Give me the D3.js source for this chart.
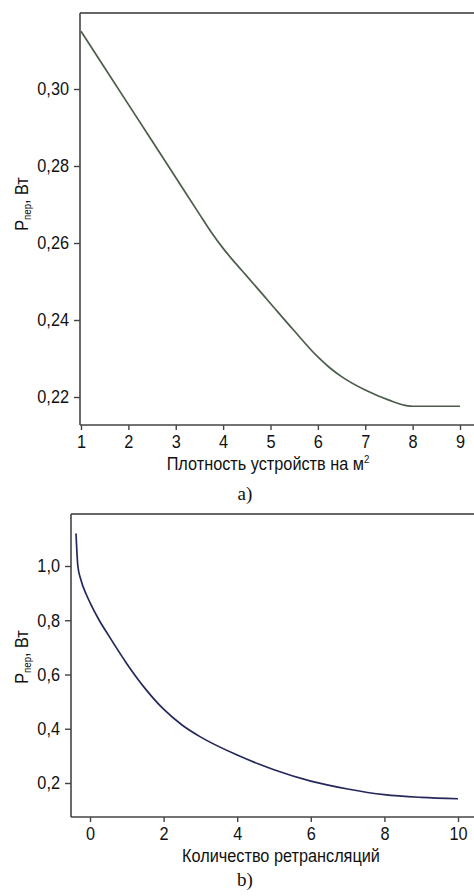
<!DOCTYPE html>
<html><head><meta charset="utf-8">
<script src="https://cdn.jsdelivr.net/npm/d3@7"></script>
<style>
html,body{margin:0;padding:0;background:#fff;}
svg{display:block;}
</style></head>
<body>
<svg id="c" width="474" height="896"></svg>
<script>
// Panel a) data: device density (per m²) vs transmit power (W)
const densityX = [1, 2, 3, 3.5, 3.75, 4, 4.25, 4.5, 5, 5.5, 6, 6.25, 6.5, 7, 7.5, 7.9, 8, 9];
const powerA   = [0.315, 0.296, 0.277, 0.2675, 0.2628, 0.2586, 0.2549, 0.2514, 0.2443, 0.2372, 0.2304, 0.2276, 0.2253, 0.2218, 0.2192, 0.2177, 0.2176, 0.2176];
const ticksAX  = [1, 2, 3, 4, 5, 6, 7, 8, 9];
const ticksAY  = [0.22, 0.24, 0.26, 0.28, 0.30];

// Panel b) data: number of retransmissions vs transmit power (W)
const retransX = [-0.38, -0.33, -0.25, -0.1, 0, 0.25, 0.5, 1, 1.5, 2, 2.5, 3, 4, 5, 6, 7, 8, 9, 10];
const powerB   = [1.12, 1.0, 0.95, 0.895, 0.865, 0.80, 0.745, 0.64, 0.548, 0.472, 0.414, 0.37, 0.303, 0.249, 0.207, 0.178, 0.157, 0.147, 0.142];
const ticksBX  = [0, 2, 4, 6, 8, 10];
const ticksBY  = [0.2, 0.4, 0.6, 0.8, 1.0];

const svg = d3.select("#c");
const FONT = '"Liberation Sans",Arial,sans-serif';
const axisColor = "#444";
const SQ = 0.88; // horizontal condensing of the sans text

function condense(sel){
  sel.each(function(){
    const w = this.getComputedTextLength();
    d3.select(this).attr("textLength", w*SQ).attr("lengthAdjust","spacingAndGlyphs");
  });
}

function panel(cfg){
  const g = svg.append("g");
  const x = d3.scaleLinear().domain(cfg.xDom).range(cfg.xRange);
  const y = d3.scaleLinear().domain(cfg.yDom).range(cfg.yRange);
  const box = cfg.box;
  g.append("line").attr("x1",box.l).attr("x2",box.r).attr("y1",box.t).attr("y2",box.t)
    .attr("stroke","#333").attr("stroke-width",1.6);
  g.append("line").attr("x1",box.l).attr("x2",box.l).attr("y1",box.t).attr("y2",box.b)
    .attr("stroke",axisColor).attr("stroke-width",1.6);
  g.append("line").attr("x1",box.l).attr("x2",box.r).attr("y1",box.b).attr("y2",box.b)
    .attr("stroke",axisColor).attr("stroke-width",1.6);

  const fmt = d => cfg.yFmt(d).replace(".", ",");
  const ya = g.append("g").attr("transform",`translate(${box.l},0)`)
    .call(d3.axisLeft(y).tickValues(cfg.yTicks).tickFormat(fmt).tickSize(6).tickPadding(5));
  ya.select(".domain").remove();
  ya.selectAll(".tick line").attr("stroke",axisColor).attr("stroke-width",1.4);
  ya.selectAll(".tick text").attr("font-size",18.5).attr("fill","#111").attr("font-family",FONT).call(condense);

  const xa = g.append("g").attr("transform",`translate(0,${box.b})`)
    .call(d3.axisBottom(x).tickValues(cfg.xTicks).tickFormat(d3.format("d")).tickSize(5).tickPadding(5));
  xa.select(".domain").remove();
  xa.selectAll(".tick line").attr("stroke",axisColor).attr("stroke-width",1.4);
  xa.selectAll(".tick text").attr("font-size",18.5).attr("fill","#111").attr("font-family",FONT).call(condense);

  const line = d3.line().x((d,i)=>x(cfg.xs[i])).y(d=>y(d)).curve(d3.curveMonotoneX);
  g.append("path").datum(cfg.ys).attr("d",line).attr("fill","none")
    .attr("stroke",cfg.color).attr("stroke-width",1.7);

  // y label
  const yl = g.append("g").attr("transform",`translate(${cfg.yLabelX},${cfg.yLabelY}) rotate(-90) scale(${SQ},1)`)
    .append("text").attr("text-anchor","middle").attr("font-family",FONT).attr("font-size",18.5).attr("fill","#111");
  yl.append("tspan").text("P");
  yl.append("tspan").text("пер").attr("font-size",11).attr("dy",3);
  yl.append("tspan").text(", Вт").attr("dy",-3);

  // x label
  const xl = g.append("g").attr("transform",`translate(${cfg.xLabelX},${cfg.xLabelY}) scale(${SQ},1)`)
    .append("text").attr("text-anchor","middle").attr("font-family",FONT).attr("font-size",18.5).attr("fill","#111");
  xl.append("tspan").text(cfg.xLabel);
  if (cfg.sup) xl.append("tspan").text(cfg.sup).attr("font-size",11).attr("dy",-7);

  svg.append("text").attr("x",cfg.capX).attr("y",cfg.capY).attr("text-anchor","middle")
    .attr("font-family",'"Liberation Serif","DejaVu Serif",serif').attr("font-size",19).attr("fill","#111")
    .text(cfg.caption);
}

panel({
  xDom:[1,9], xRange:[81,460], yDom:[0.22,0.30], yRange:[397,89],
  box:{l:80,t:13,b:425,r:480},
  xTicks:ticksAX, yTicks:ticksAY, yFmt:d3.format(".2f"),
  xs:densityX, ys:powerA, color:"#4b5e4b",
  yLabelX:28, yLabelY:204,
  xLabel:"Плотность устройств на м", sup:"2", xLabelX:268, xLabelY:470,
  caption:"a)", capX:245, capY:500
});

panel({
  xDom:[0,10], xRange:[90,458], yDom:[0.2,1.0], yRange:[783,566],
  box:{l:71,t:514,b:817,r:480},
  xTicks:ticksBX, yTicks:ticksBY, yFmt:d3.format(".1f"),
  xs:retransX, ys:powerB, color:"#25285c",
  yLabelX:28, yLabelY:657,
  xLabel:"Количество ретрансляций", sup:null, xLabelX:281, xLabelY:862,
  caption:"b)", capX:245, capY:886
});
</script>
</body></html>
